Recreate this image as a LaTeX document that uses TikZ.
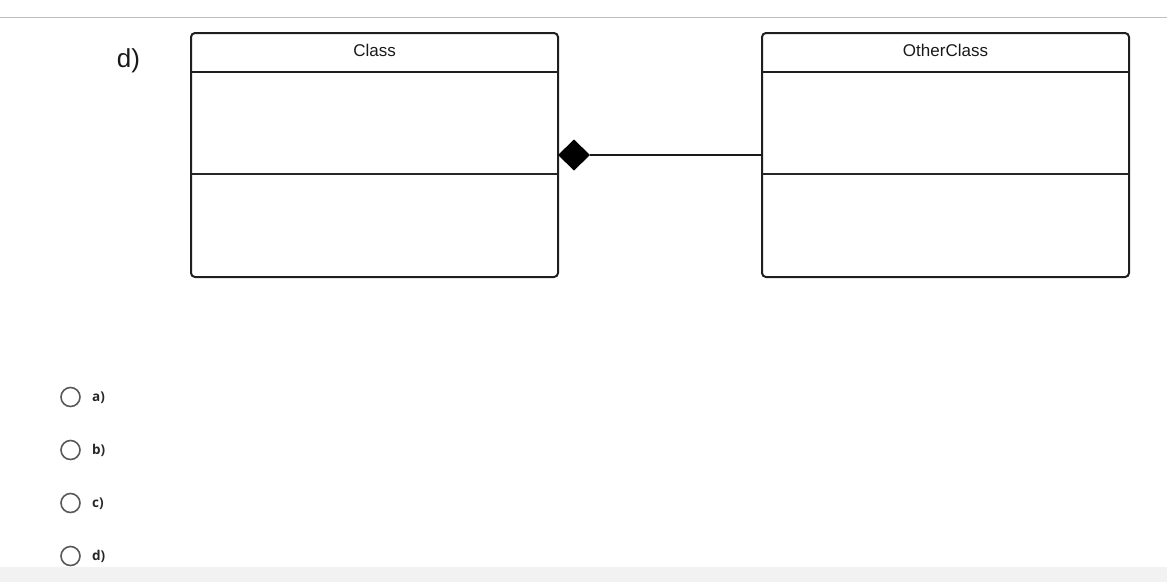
\documentclass[tikz,border=0pt]{standalone}
\usepackage{fontspec}
\setmainfont{Liberation Sans}
\newfontfamily\optfont{Open Sans}
\begin{document}
\begin{tikzpicture}[x=1pt,y=-1pt,
  umlbox/.style={draw=black!88,line width=2pt,rounded corners=4pt},
  divider/.style={draw=black!88,line width=1.7pt},
  sep/.style={draw=black!85,line width=1.3pt},
  radio/.style={circle,draw=black!65,line width=1.6pt,minimum size=19pt,inner sep=0pt},
  optlabel/.style={anchor=west,font=\optfont\fontsize{13.5}{15}\selectfont\bfseries,text=black!85,inner sep=0pt},
  title/.style={font=\fontsize{17}{20}\selectfont,text=black!90,inner sep=0pt}]
\useasboundingbox (0,0) rectangle (1167,582);
\fill[black!5] (0,567) rectangle (1167,582);
\draw[black!25,line width=1pt] (0,17) -- (1167,17);
\node[font=\fontsize{26}{30}\selectfont,text=black!90,inner sep=0pt] (lbl) at (128.5,61) {d)};
% Class
\draw[umlbox] (191,33) rectangle (558,277);
\draw[divider] (191,72) -- (558,72);
\draw[sep] (191,174) -- (558,174);
\node[title] (c1) at (374.5,50) {Class};
% OtherClass
\draw[umlbox] (762,33) rectangle (1129,277);
\draw[divider] (762,72) -- (1129,72);
\draw[sep] (762,174) -- (1129,174);
\node[title] (c2) at (945.5,50) {OtherClass};
% composition
\coordinate (a) at (558,155);
\coordinate (b) at (762,155);
\fill[black] (558,155) -- (574,139.5) -- (590,155) -- (574,170.5) -- cycle;
\draw[black!90,line width=1.3pt] (590,155) -- (b);
% options
\foreach \y/\t/\n in {397/a)/oa,450/b)/ob,503/c)/oc,556/d)/od}{
  \node[radio] (r\n) at (70.5,\y) {};
  \node[optlabel] (\n) at (92,\y+0.5) {\t};
}
\end{tikzpicture}
\end{document}
